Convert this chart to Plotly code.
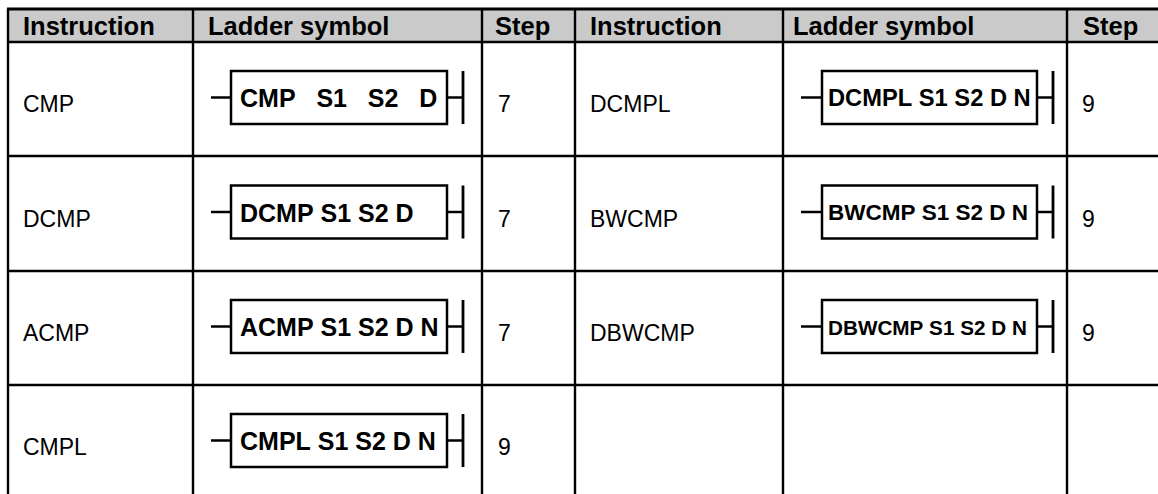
import plotly.graph_objects as go

# ---------------- data ----------------
headers = ["Instruction", "Ladder symbol", "Step", "Instruction", "Ladder symbol", "Step"]
left_instr = ["CMP", "DCMP", "ACMP", "CMPL"]
left_symbol = ["CMP   S1   S2   D", "DCMP S1 S2 D", "ACMP S1 S2 D N", "CMPL S1 S2 D N"]
left_step = ["7", "7", "7", "9"]
right_instr = ["DCMPL", "BWCMP", "DBWCMP"]
right_symbol = ["DCMPL S1 S2 D N", "BWCMP S1 S2 D N", "DBWCMP S1 S2 D N"]
right_step = ["9", "9", "9"]

# ---------------- layout / style ----------------
W, H = 1158, 494
FONT = "Liberation Sans, Arial, Helvetica, sans-serif"
HEADER_FILL = "#CACACA"
col_edges = [8, 193, 482, 575, 783, 1067, 1200]
row_edges = [9, 42, 156, 271, 385, 499]
header_x = [23, 208, 495, 590, 793, 1083]
left_sym_sizes = [25, 25, 25, 25]
right_sym_sizes = [23.7, 22.5, 20.7]

groups = [
    dict(instr=left_instr, sym=left_symbol, step=left_step, sizes=left_sym_sizes,
         instr_x=23, step_x=498, wire0=211, box0=231, box1=447, bar=463, text_x=240),
    dict(instr=right_instr, sym=right_symbol, step=right_step, sizes=right_sym_sizes,
         instr_x=590, step_x=1082, wire0=801, box0=822, box1=1037, bar=1053, text_x=828),
]

shapes = []
annotations = []

# header background
shapes.append(dict(type="rect", xref="x", yref="y", x0=col_edges[0], x1=W + 10,
                   y0=row_edges[0], y1=row_edges[1], fillcolor=HEADER_FILL,
                   line=dict(width=0), layer="below"))
# grid lines
for i, y in enumerate(row_edges[:-1]):
    shapes.append(dict(type="line", xref="x", yref="y", x0=col_edges[0] - 1, x1=W + 10,
                       y0=y, y1=y, line=dict(color="black", width=3 if i == 0 else 2.6)))
for x in col_edges[:-1]:
    shapes.append(dict(type="line", xref="x", yref="y", x0=x, x1=x,
                       y0=row_edges[0], y1=H + 10, line=dict(color="black", width=2.4)))

# header texts
hy = (row_edges[0] + row_edges[1]) / 2
for txt, x in zip(headers, header_x):
    annotations.append(dict(x=x, y=hy + 0.5, xref="x", yref="y", text="<b>%s</b>" % txt,
                            showarrow=False, xanchor="left", yanchor="middle",
                            borderpad=0, borderwidth=0,
                            font=dict(family=FONT, size=25.5, color="black")))

# body
for g in groups:
    for i, (ins, sym, st, fs) in enumerate(zip(g["instr"], g["sym"], g["step"], g["sizes"])):
        rc = (row_edges[i + 1] + row_edges[i + 2]) / 2
        ty = rc + 5
        annotations.append(dict(x=g["instr_x"], y=ty, xref="x", yref="y", text=ins,
                                showarrow=False, xanchor="left", yanchor="middle",
                                borderpad=0, borderwidth=0,
                                font=dict(family=FONT, size=23, color="black")))
        annotations.append(dict(x=g["step_x"], y=ty, xref="x", yref="y", text=st,
                                showarrow=False, xanchor="left", yanchor="middle",
                                borderpad=0, borderwidth=0,
                                font=dict(family=FONT, size=23, color="black")))
        cy = rc - 1.5
        hh = 26.5
        # wire in
        shapes.append(dict(type="line", xref="x", yref="y", x0=g["wire0"], x1=g["box0"],
                           y0=cy, y1=cy, line=dict(color="black", width=2.5)))
        # box
        shapes.append(dict(type="rect", xref="x", yref="y", x0=g["box0"], x1=g["box1"],
                           y0=cy - hh, y1=cy + hh, line=dict(color="black", width=2.5)))
        # wire out
        shapes.append(dict(type="line", xref="x", yref="y", x0=g["box1"], x1=g["bar"],
                           y0=cy, y1=cy, line=dict(color="black", width=2.5)))
        # bus bar
        shapes.append(dict(type="line", xref="x", yref="y", x0=g["bar"], x1=g["bar"],
                           y0=cy - hh, y1=cy + hh, line=dict(color="black", width=2.8)))
        annotations.append(dict(x=g["text_x"], y=cy + 0.5, xref="x", yref="y",
                                text="<b>%s</b>" % sym.replace(" ", "\u00a0"),
                                showarrow=False, xanchor="left", yanchor="middle",
                                borderpad=0, borderwidth=0,
                                font=dict(family=FONT, size=fs, color="black")))

fig = go.Figure()
fig.add_trace(go.Scatter(x=[0, W], y=[0, H], mode="markers", marker=dict(opacity=0),
                         hoverinfo="skip", showlegend=False))
fig.update_layout(
    width=W, height=H,
    margin=dict(l=0, r=0, t=0, b=0),
    paper_bgcolor="white", plot_bgcolor="white",
    xaxis=dict(range=[0, W], visible=False, fixedrange=True),
    yaxis=dict(range=[H, 0], visible=False, fixedrange=True),
    shapes=shapes, annotations=annotations, showlegend=False,
)
fig.write_html("out.html", config={"displayModeBar": False},
               post_script="document.body.style.margin='0';document.body.style.overflow='hidden';")
